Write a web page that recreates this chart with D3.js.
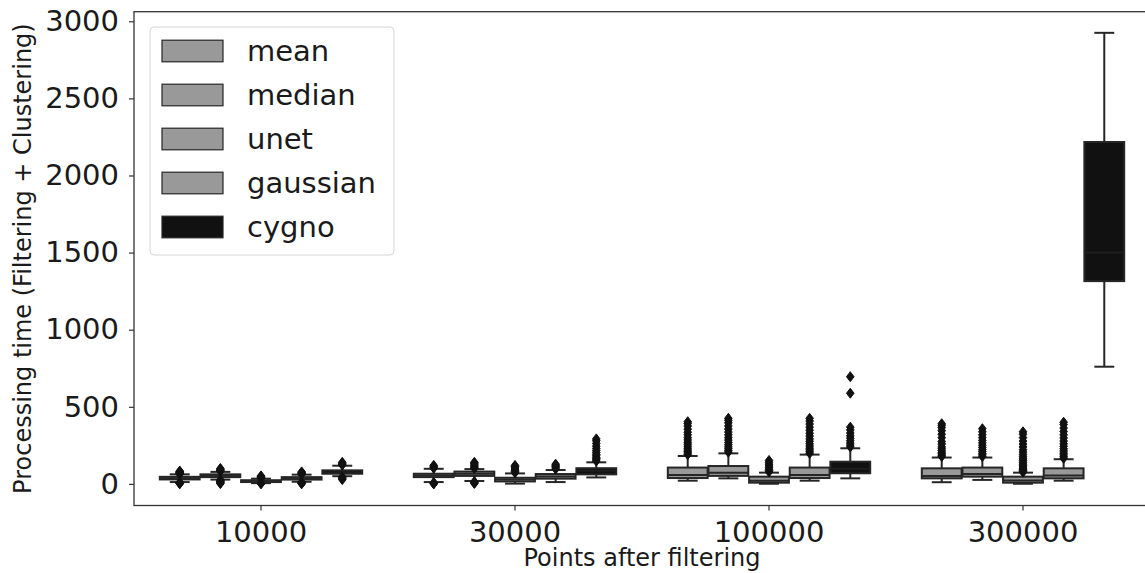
<!DOCTYPE html>
<html>
<head>
<meta charset="utf-8">
<script src="https://cdn.jsdelivr.net/npm/d3@7"></script>
<style>
  body { margin: 0; background: #fff; }
  svg { display: block; }
  text { font-family: "DejaVu Sans", sans-serif; fill: #1a1a1a; }
</style>
</head>
<body>
<svg id="chart" width="1145" height="573"></svg>
<script>
// Processing time (filtering + clustering) per denoising method,
// grouped by the number of points left after filtering.
const categories = ["10000", "30000", "100000", "300000"];
const methods = ["mean", "median", "unet", "gaussian", "cygno"];
const methodColors = ["#999999", "#999999", "#999999", "#999999", "#111111"];
const yTicks = [0, 500, 1000, 1500, 2000, 2500, 3000];

// Box statistics: one row per method, one column per category.
const lowerWhisker = [
  [12, 12, 21, 11],
  [28, 19, 36, 26],
  [5, 2, 1, 1],
  [14, 12, 21, 21],
  [50, 42, 36, 760]
];
const q1 = [
  [29, 44, 38, 36],
  [44, 52, 52, 47],
  [12, 16, 8, 8],
  [28, 34, 38, 36],
  [66, 62, 69, 1315]
];
const medians = [
  [36, 55, 58, 52],
  [53, 66, 72, 64],
  [18, 28, 20, 22],
  [35, 48, 58, 55],
  [76, 85, 98, 1500]
];
const q3 = [
  [46, 66, 106, 101],
  [62, 80, 116, 106],
  [24, 40, 47, 47],
  [44, 64, 106, 101],
  [88, 102, 144, 2217]
];
const upperWhisker = [
  [62, 98, 181, 171],
  [78, 96, 198, 171],
  [34, 68, 73, 73],
  [60, 90, 190, 160],
  [118, 140, 231, 2925]
];
const outliers = [
  [ // mean
    [1, 3, 5, 7, 9, 10, 64, 66, 68, 70, 72, 74, 77, 80, 83],
    [0, 3, 6, 9, 102, 108, 114, 120],
    [190, 200, 210, 220, 232, 245, 258, 270, 285, 300, 318, 335, 355, 375, 392, 403],
    [178, 186, 195, 205, 216, 228, 240, 258, 275, 300, 322, 345, 365, 380, 390]
  ],
  [ // median
    [2, 6, 10, 14, 18, 22, 26, 82, 86, 90, 95, 100],
    [3, 7, 11, 15, 100, 106, 112, 120, 128, 135, 140],
    [206, 216, 228, 240, 254, 268, 284, 300, 318, 336, 356, 376, 396, 412, 425],
    [178, 188, 198, 210, 222, 236, 250, 266, 282, 300, 318, 338, 358]
  ],
  [ // unet
    [1, 3, 37, 40, 44, 48, 52],
    [72, 80, 88, 96, 104, 112, 120],
    [78, 86, 95, 105, 116, 128, 140, 152],
    [76, 82, 88, 95, 102, 110, 118, 128, 138, 150, 162, 176, 190, 206, 222, 240, 258, 278, 300, 322, 338]
  ],
  [ // gaussian
    [1, 3, 5, 8, 11, 63, 66, 70, 74, 78],
    [96, 104, 112, 120, 128],
    [198, 208, 220, 232, 246, 260, 276, 292, 310, 328, 348, 368, 388, 408, 425],
    [166, 176, 188, 200, 214, 228, 244, 260, 278, 298, 318, 340, 362, 385, 400]
  ],
  [ // cygno
    [28, 34, 40, 45, 122, 128, 134, 140],
    [148, 156, 164, 172, 182, 192, 204, 216, 230, 245, 262, 280, 292],
    [240, 252, 265, 280, 296, 312, 330, 350, 368, 588, 695],
    []
  ]
];

const lineColor = "#262626";
const spineColor = "#333333";
const plot = { left: 134, right: 1150, top: 11.7, bottom: 505.5 };

const svg = d3.select("#chart");

const x = d3.scaleBand().domain(categories).range([plot.left, plot.right]).padding(0);
const y = d3.scaleLinear().domain([-140, 3062]).range([plot.bottom, plot.top]);

const bw = x.bandwidth();
const hueStep = 0.8 * bw / methods.length;
const boxW = hueStep * 0.98;
const capW = boxW * 0.5;
const hueCenter = (ci, mi) => x(categories[ci]) + bw / 2 + (mi - (methods.length - 1) / 2) * hueStep;

// Boxes
const gBoxes = svg.append("g");
methods.forEach((m, mi) => {
  categories.forEach((c, ci) => {
    const cx = hueCenter(ci, mi);
    const g = gBoxes.append("g");
    // whiskers
    g.append("line").attr("x1", cx).attr("x2", cx)
      .attr("y1", y(q1[mi][ci])).attr("y2", y(lowerWhisker[mi][ci]))
      .attr("stroke", lineColor).attr("stroke-width", 2);
    g.append("line").attr("x1", cx).attr("x2", cx)
      .attr("y1", y(q3[mi][ci])).attr("y2", y(upperWhisker[mi][ci]))
      .attr("stroke", lineColor).attr("stroke-width", 2);
    // caps
    [lowerWhisker[mi][ci], upperWhisker[mi][ci]].forEach(v => {
      g.append("line").attr("x1", cx - capW / 2).attr("x2", cx + capW / 2)
        .attr("y1", y(v)).attr("y2", y(v))
        .attr("stroke", lineColor).attr("stroke-width", 2);
    });
    // box
    g.append("rect")
      .attr("x", cx - boxW / 2).attr("width", boxW)
      .attr("y", y(q3[mi][ci])).attr("height", y(q1[mi][ci]) - y(q3[mi][ci]))
      .attr("fill", methodColors[mi]).attr("stroke", lineColor).attr("stroke-width", 2);
    // median
    g.append("line").attr("x1", cx - boxW / 2).attr("x2", cx + boxW / 2)
      .attr("y1", y(medians[mi][ci])).attr("y2", y(medians[mi][ci]))
      .attr("stroke", mi === 4 ? "#1e1e1e" : lineColor).attr("stroke-width", 2);
    // fliers (thin diamonds)
    g.selectAll("path.flier").data(outliers[mi][ci]).enter().append("path")
      .attr("class", "flier")
      .attr("d", v => {
        const py = y(v);
        return `M${cx},${py - 5}L${cx + 3.8},${py}L${cx},${py + 5}L${cx - 3.8},${py}Z`;
      })
      .attr("fill", "#111").attr("stroke", "#111").attr("stroke-width", 1);
  });
});

// Axes
const yAxis = d3.axisLeft(y).tickValues(yTicks).tickFormat(d3.format("d"))
  .tickSize(5).tickSizeOuter(0).tickPadding(10);
const gy = svg.append("g").attr("transform", `translate(${plot.left},0)`).call(yAxis);
gy.select(".domain").remove();
gy.selectAll(".tick line").attr("stroke", spineColor).attr("stroke-width", 1.2);
gy.selectAll(".tick text").attr("font-size", 29).attr("font-family", "DejaVu Sans").attr("fill", "#1a1a1a");

const xAxis = d3.axisBottom(x).tickSize(5).tickSizeOuter(0).tickPadding(11);
const gx = svg.append("g").attr("transform", `translate(0,${plot.bottom})`).call(xAxis);
gx.select(".domain").remove();
gx.selectAll(".tick line").attr("stroke", spineColor).attr("stroke-width", 1.2);
gx.selectAll(".tick text").attr("font-size", 29).attr("font-family", "DejaVu Sans").attr("fill", "#1a1a1a");

// Frame
svg.append("rect")
  .attr("x", plot.left).attr("y", plot.top)
  .attr("width", plot.right - plot.left).attr("height", plot.bottom - plot.top)
  .attr("fill", "none").attr("stroke", spineColor).attr("stroke-width", 1.3);

// Axis titles
svg.append("text")
  .attr("x", (plot.left + plot.right) / 2).attr("y", 566)
  .attr("text-anchor", "middle").attr("font-size", 24)
  .text("Points after filtering");
svg.append("text")
  .attr("transform", `translate(30.5,${(plot.top + plot.bottom) / 2}) rotate(-90)`)
  .attr("text-anchor", "middle").attr("font-size", 24)
  .text("Processing time (Filtering + Clustering)");

// Legend
const legend = svg.append("g");
legend.append("rect")
  .attr("x", 150).attr("y", 27).attr("width", 244).attr("height", 228)
  .attr("rx", 4).attr("fill", "#fff").attr("fill-opacity", 0.8)
  .attr("stroke", "#d5d5d5").attr("stroke-width", 1);
const rowY = d3.scalePoint().domain(methods).range([51, 227]);
methods.forEach((m, mi) => {
  legend.append("rect")
    .attr("x", 162).attr("y", rowY(m) - 10.8).attr("width", 61).attr("height", 21.6)
    .attr("fill", methodColors[mi]).attr("stroke", lineColor).attr("stroke-width", 1.2);
  legend.append("text")
    .attr("x", 247).attr("y", rowY(m)).attr("dy", "0.36em")
    .attr("font-size", 29).text(m);
});
</script>
</body>
</html>
